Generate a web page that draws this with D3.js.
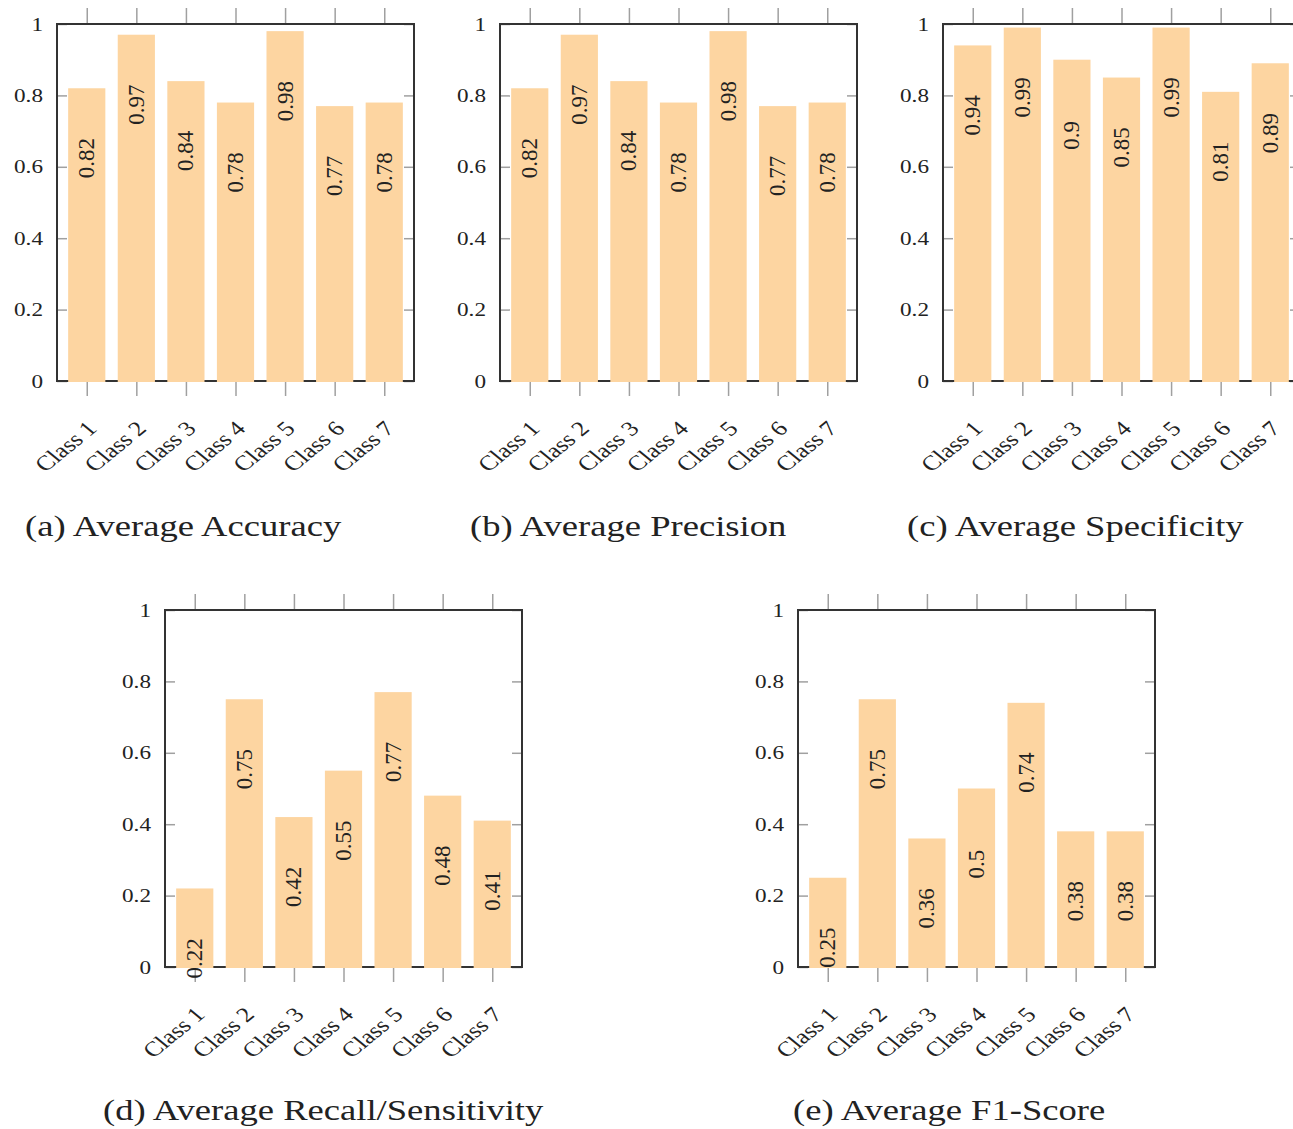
<!DOCTYPE html>
<html>
<head>
<meta charset="utf-8">
<script src="https://cdn.jsdelivr.net/npm/d3@7"></script>
<style>
  body { margin: 0; background: #fff; }
  text { font-family: "Liberation Serif", "Times New Roman", serif; fill: #222; }
</style>
</head>
<body>
<div id="chart"></div>
<script>
// Data
const classes = ['Class 1', 'Class 2', 'Class 3', 'Class 4', 'Class 5', 'Class 6', 'Class 7'];
const accuracy = [0.82, 0.97, 0.84, 0.78, 0.98, 0.77, 0.78];
const precision = [0.82, 0.97, 0.84, 0.78, 0.98, 0.77, 0.78];
const specificity = [0.94, 0.99, 0.9, 0.85, 0.99, 0.81, 0.89];
const recall = [0.22, 0.75, 0.42, 0.55, 0.77, 0.48, 0.41];
const f1 = [0.25, 0.75, 0.36, 0.5, 0.74, 0.38, 0.38];
const yTicks = [0, 0.2, 0.4, 0.6, 0.8, 1];

// Panel layout
const panels = [
  { values: accuracy, caption: '(a) Average Accuracy', left: 57, top: 24, capX: 25, capY: 536 },
  { values: precision, caption: '(b) Average Precision', left: 500, top: 24, capX: 470, capY: 536 },
  { values: specificity, caption: '(c) Average Specificity', left: 943, top: 24, capX: 907, capY: 536 },
  { values: recall, caption: '(d) Average Recall/Sensitivity', left: 165, top: 610, capX: 103, capY: 1120 },
  { values: f1, caption: '(e) Average F1-Score', left: 798, top: 610, capX: 793, capY: 1120 }
];

const width = 357;
const height = 357;
const stretch = 1.22; // the source figure is a bit wider than tall
const barColor = '#fdd5a1';
const tickColor = '#a0a0a0';

const svg = d3.select('#chart')
  .append('svg')
  .attr('width', 1293)
  .attr('height', 1129);

panels.forEach(p => {
  const data = classes.map((c, i) => ({ name: c, value: p.values[i] }));

  const x = d3.scalePoint()
    .domain(classes)
    .range([0, width])
    .padding(0.6);

  const y = d3.scaleLinear()
    .domain([0, 1])
    .range([height, 0]);

  const bw = x.step() * 0.75;

  const g = svg.append('g')
    .attr('transform', `translate(${p.left},${p.top})`);

  // Axes
  const left = g.append('g')
    .call(d3.axisLeft(y).tickValues(yTicks).tickSize(-10).tickFormat(d => String(d)));
  const right = g.append('g')
    .attr('transform', `translate(${width},0)`)
    .call(d3.axisRight(y).tickValues(yTicks).tickSize(-10).tickFormat(''));
  const top = g.append('g')
    .call(d3.axisTop(x).tickSize(16).tickFormat(''));
  const bottom = g.append('g')
    .attr('transform', `translate(0,${height})`)
    .call(d3.axisBottom(x).tickSize(15));

  [left, right, top, bottom].forEach(a => {
    a.select('.domain').remove();
    a.selectAll('.tick line').attr('stroke', tickColor).attr('stroke-width', 1.5);
    a.selectAll('.tick text')
      .attr('font-family', '"Liberation Serif", serif')
      .attr('fill', '#222');
  });

  left.selectAll('.tick text')
    .attr('x', null)
    .attr('dy', '0.32em')
    .attr('font-size', 19)
    .attr('transform', `translate(-14,0) scale(${stretch},1)`);

  bottom.selectAll('.tick text')
    .attr('x', 0)
    .attr('y', 0)
    .attr('dy', '0.32em')
    .attr('text-anchor', 'end')
    .attr('font-size', 21)
    .attr('transform', `translate(5,44) scale(${stretch},1) rotate(-45)`);

  // Frame
  g.append('rect')
    .attr('width', width)
    .attr('height', height)
    .attr('fill', 'none')
    .attr('stroke', '#333')
    .attr('stroke-width', 2);

  // Bars
  g.selectAll('.bar')
    .data(data)
    .enter()
    .append('rect')
    .attr('class', 'bar')
    .attr('x', d => x(d.name) - bw / 2)
    .attr('y', d => y(d.value))
    .attr('width', bw)
    .attr('height', d => y(0) - y(d.value) + 1)
    .attr('fill', barColor);

  // Value labels
  g.selectAll('.val')
    .data(data)
    .enter()
    .append('text')
    .attr('class', 'val')
    .attr('transform', d => `translate(${x(d.name)},${y(d.value) + 90}) rotate(-90)`)
    .attr('text-anchor', 'start')
    .attr('dominant-baseline', 'central')
    .attr('font-size', 23)
    .text(d => String(d.value));

  // Caption
  svg.append('text')
    .attr('transform', `translate(${p.capX},${p.capY}) scale(${stretch},1)`)
    .attr('font-size', 30)
    .text(p.caption);
});
</script>
</body>
</html>
